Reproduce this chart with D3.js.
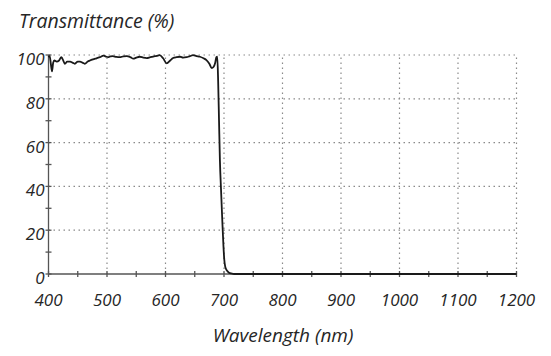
<!DOCTYPE html>
<html><head><meta charset="utf-8">
<script src="https://cdn.jsdelivr.net/npm/d3@7"></script>
<style>body{margin:0;background:#fff}text{font-family:"Open Sans",sans-serif;font-style:italic;fill:#262626}</style>
</head><body><svg id="c" width="551" height="356"></svg>
<script>
const wavelength = [400,402,404,406,408,410,414,418,422,426,428,432,437,441,445,450,454,458,462,467,471,476,482,488,494,498,502,506,510,516,522,528,534,540,545,550,556,562,568,574,579,585,590,596,602,608,613,619,625,630,636,642,647,653,659,665,670,675,679,682,685,687,688.5,690,691.5,693,695,697,699,700.5,702,704,707,710,715,720,800,900,1000,1100,1200];
const transmittance = [99,99.5,96,92.5,96.5,97.5,97,97.5,99,97,96,97,97,96.5,96,97,97,96.5,96,97,97.5,98,98.5,99,99.7,99.3,99,99.4,99.5,99.1,99,99.4,99.5,99,98.3,98.8,99.2,98.8,98.6,99,99.3,99.6,99.9,98.5,96.2,97.5,98.6,99,99.2,98.8,99,99.5,99.9,99.5,99.2,98.5,97.7,96,94,94.5,96.5,99,99.2,88,70,52,38,25,13,6.5,3.5,2,1,0.4,0.1,0,0,0,0,0,0];
const xMajor = [400,500,600,700,800,900,1000,1100,1200];
const yMajor = [0,20,40,60,80,100];
const xMinor = [450,550,650,750,850,950,1050,1150];
const yMinor = [10,30,50,70,90];

const svg = d3.select("#c");
const x = d3.scaleLinear().domain([400,1200]).range([48.5,516.5]);
const y = d3.scaleLinear().domain([0,100]).range([274,55]);

// grid
const grid = svg.append("g").attr("stroke","#8a8a8a").attr("stroke-width",1.2).attr("stroke-dasharray","1.5,3.5");
grid.selectAll(".gx").data(xMajor.slice(1)).join("line")
  .attr("x1",d=>x(d)).attr("x2",d=>x(d)).attr("y1",y(0)).attr("y2",y(100));
grid.selectAll(".gy").data(yMajor.slice(1)).join("line")
  .attr("x1",x(400)).attr("x2",x(1200)).attr("y1",d=>y(d)).attr("y2",d=>y(d));

// axes
const ax = svg.append("g").attr("stroke","#555").attr("stroke-width",1.3);
ax.append("line").attr("x1",x(400)).attr("x2",x(1200)).attr("y1",y(0)).attr("y2",y(0));
ax.append("line").attr("x1",x(400)).attr("x2",x(400)).attr("y1",y(0)).attr("y2",y(100));
ax.selectAll(".tx").data(xMinor.concat(xMajor)).join("line")
  .attr("x1",d=>x(d)).attr("x2",d=>x(d)).attr("y1",y(0)-3).attr("y2",y(0)+3);
ax.selectAll(".ty").data(yMinor.concat(yMajor)).join("line")
  .attr("y1",d=>y(d)).attr("y2",d=>y(d)).attr("x1",x(400)-3).attr("x2",x(400)+3);

// labels
svg.selectAll(".xl").data(xMajor).join("text")
  .attr("x",d=>x(d)).attr("y",y(0)+32).attr("text-anchor","middle").attr("font-size",17).text(d=>d);
svg.selectAll(".yl").data(yMajor).join("text")
  .attr("x",x(400)-4).attr("y",d=>y(d)+10).attr("text-anchor","end").attr("font-size",17).text(d=>d);

svg.append("text").attr("x",19).attr("y",28).attr("font-size",19.5).text("Transmittance (%)");
svg.append("text").attr("x",283).attr("y",342).attr("text-anchor","middle").attr("font-size",19).text("Wavelength (nm)");

// curve
const line = d3.line().x((d,i)=>x(wavelength[i])).y(d=>y(d)).curve(d3.curveMonotoneX);
svg.append("path").datum(transmittance).attr("d",line)
  .attr("fill","none").attr("stroke","#1a1a1a").attr("stroke-width",1.8).attr("stroke-linejoin","round");
</script></body></html>
